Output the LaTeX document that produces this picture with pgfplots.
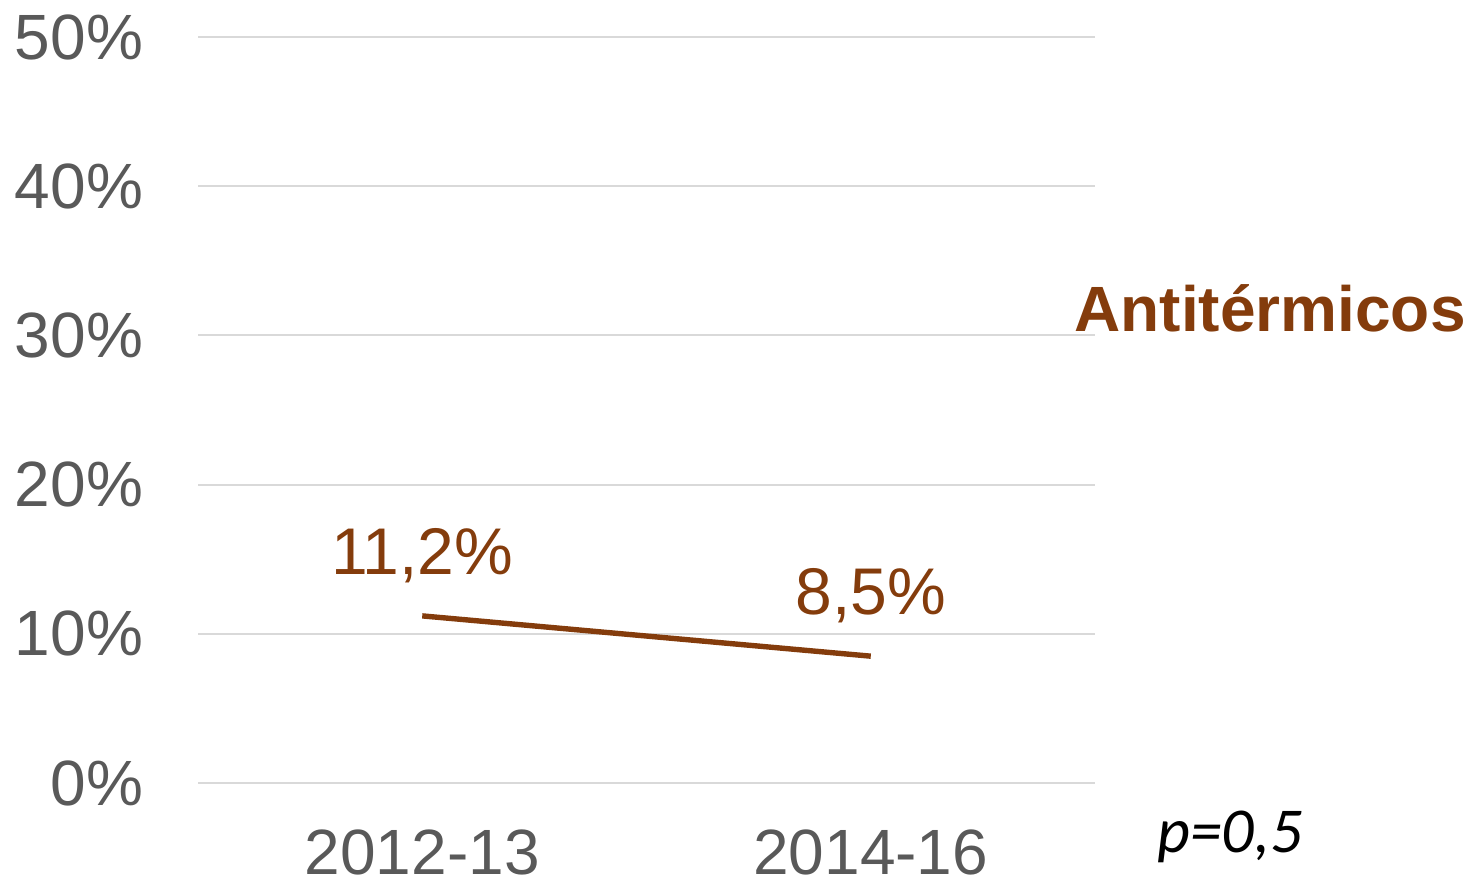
\documentclass[border=0pt]{standalone}
\usepackage{pgfplots}
\pgfplotsset{compat=1.18}
\usepackage{fontspec}
\setmainfont{Liberation Sans}
\newfontfamily\carlito{Carlito}
\definecolor{brownc}{HTML}{843C0C}
\definecolor{tickgray}{HTML}{595959}
\definecolor{gridgray}{HTML}{D9D9D9}
\begin{document}
\begin{tikzpicture}
\useasboundingbox (0,0) rectangle (735.5pt,443.5pt);
\begin{axis}[
  at={(99pt,52pt)}, anchor=south west,
  scale only axis, width=448.5pt, height=373pt,
  xmin=-0.5, xmax=1.5, ymin=0, ymax=50,
  xtick={0,1}, xticklabels={2012-13,2014-16},
  ytick={0,10,20,30,40,50},
  yticklabel={\pgfmathprintnumber{\tick}\%},
  /pgf/number format/assume math mode=true,
  axis line style={draw=none},
  major tick length=0pt,
  ymajorgrids, grid style={gridgray, line width=1pt},
  yticklabel style={font=\fontsize{32}{38}\selectfont, text=tickgray, xshift=-24pt},
  xticklabel style={font=\fontsize{32}{38}\selectfont, text=tickgray, yshift=-20pt},
  clip=false,
]
\addplot[brownc, line width=2.7pt,
  nodes near coords={\pgfmathprintnumber[fixed,fixed zerofill,precision=1,use comma]{\pgfplotspointmeta}\%},
  nodes near coords style={font=\fontsize{33}{38}\selectfont, text=brownc, yshift=12pt},
  point meta=explicit]
  coordinates {(0,11.2) [11.2] (1,8.5) [8.5]};
\end{axis}
\node[font=\fontsize{32}{38}\selectfont\bfseries, text=brownc] at (635pt,289.5pt) {Antitérmicos};
\node[font=\carlito\itshape\fontsize{32}{38}\selectfont] at (615pt,25pt) {p=0,5};
\end{tikzpicture}
\end{document}
